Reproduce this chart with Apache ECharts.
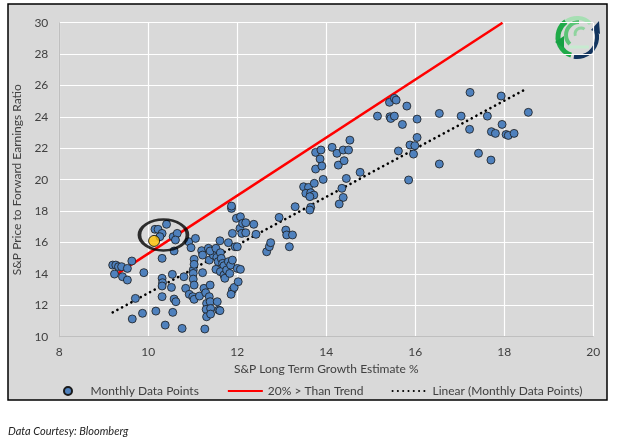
<!DOCTYPE html>
<html>
<head>
<meta charset="utf-8">
<script src="https://cdn.jsdelivr.net/npm/echarts@6/dist/echarts.min.js"></script>
<style>
  html, body { margin: 0; padding: 0; background: #fff; }
  #main { width: 619px; height: 447px; }
</style>
</head>
<body>
<div id="main"></div>
<script>
// monthly data points: [growth estimate %, forward P/E]
var monthlyPoints = [
  [9.20,14.56],[9.27,14.56],[9.33,14.46],[9.40,14.46],[9.24,13.99],[9.42,13.82],[9.53,13.61],
  [9.53,14.35],[9.63,14.82],[9.71,12.44],[9.64,11.13],[9.87,11.49],[9.90,14.08],
  [10.15,16.84],[10.22,16.84],[10.41,17.16],[10.31,16.58],[10.26,16.37],[10.56,16.37],
  [10.65,16.58],[10.61,16.16],[10.58,15.46],[10.31,14.99],[10.91,16.05],[10.96,15.67],
  [11.06,16.26],[10.31,13.72],[10.32,13.44],[10.31,13.23],[10.54,13.97],[10.52,13.14],
  [10.31,12.55],[10.58,12.40],[10.62,12.23],[10.17,11.63],[10.55,11.55],[10.38,10.74],
  [10.76,10.53],[10.80,13.82],[10.84,13.08],[10.92,12.70],[11.00,12.55],[11.03,12.38],
  [11.01,14.25],[11.01,14.03],[11.01,13.67],[11.03,13.29],[11.03,14.93],[11.03,14.61],
  [11.15,12.59],[11.20,15.48],[11.22,15.20],[11.22,14.08],[11.25,13.08],[11.29,12.80],
  [11.31,12.12],[11.30,11.74],[11.31,11.27],[11.27,10.49],[11.35,15.63],[11.37,12.55],
  [11.39,13.29],[11.39,12.23],[11.40,11.80],[11.40,11.44],[11.37,14.88],[11.46,15.20],
  [11.39,15.46],[11.52,15.63],[11.55,12.23],[11.58,11.70],[11.61,11.66],[11.52,14.29],
  [11.54,15.05],[11.57,14.78],[11.61,16.11],[11.62,15.35],[11.64,14.99],[11.67,14.67],
  [11.70,14.52],[11.62,14.14],[11.70,13.93],[11.72,13.72],[11.76,14.25],[11.80,15.99],
  [11.80,14.78],[11.85,14.56],[11.83,14.03],[11.89,16.58],[11.89,14.88],[11.89,12.97],
  [11.86,12.70],[11.93,13.14],[11.95,15.73],[12.00,14.35],[12.02,13.50],[12.07,14.29],
  [11.87,18.17],[11.87,18.32],[11.98,17.54],[12.07,17.64],[12.06,16.90],[12.10,16.58],
  [12.12,17.22],[12.19,17.26],[12.19,16.62],[12.00,15.73],[12.37,17.16],[12.42,16.52],
  [12.66,15.41],[12.72,15.73],[12.75,15.99],[12.94,17.60],[13.09,16.79],[13.11,16.48],
  [13.24,16.48],[13.17,15.73],[13.30,18.28],[13.65,18.24],[13.63,18.07],
  [13.49,19.55],[13.60,19.51],[13.54,19.13],[13.65,19.17],[13.72,19.02],[13.63,18.92],
  [13.73,19.77],[13.76,20.68],[13.76,21.74],[13.88,21.89],[13.86,21.32],[13.90,20.87],
  [13.93,20.02],[14.13,22.06],[14.24,21.68],[14.27,20.93],[14.38,21.89],[14.50,21.89],
  [14.53,22.52],[14.40,21.21],[14.45,20.08],[14.38,18.87],[14.29,18.45],[14.35,19.45],
  [14.76,20.47],[15.15,24.05],[15.42,24.93],[15.53,25.18],[15.57,25.07],[15.81,24.69],
  [15.43,24.01],[15.45,23.90],[15.53,24.05],[15.71,23.52],[16.04,23.86],[15.62,21.83],
  [15.88,22.21],[15.99,22.17],[15.96,21.63],[16.04,22.69],[15.85,19.98],[16.54,24.22],
  [16.54,21.00],[17.03,24.05],[17.23,25.56],[17.22,23.21],[17.42,21.68],[17.62,24.05],
  [17.71,23.06],[17.80,22.95],[17.70,21.25],[17.93,25.33],[17.95,23.52],[18.04,22.88],
  [18.09,22.82],[18.22,22.95],[18.54,24.29]
];
var currentPoint = [[10.13, 16.10]];
var circledArea = [[10.34, 16.48]];

var trendLine = [[9.20, 11.55], [18.50, 25.80]];       // Linear (Monthly Data Points)
var aboveTrendLine = [[9.30, 14.00], [17.96, 30.00]];  // 20% > Than Trend

var xTicks = { min: 8, max: 20, step: 2 };
var yTicks = { min: 10, max: 30, step: 2 };

var font = 'Lato, "Liberation Sans", sans-serif';
var chart = echarts.init(document.getElementById('main'));

// no marker on the line legend icons
var hideMarker = { color: 'rgba(0,0,0,0)', borderWidth: 0, opacity: 0 };

chart.setOption({
  backgroundColor: '#fff',
  animation: false,
  textStyle: { fontFamily: font },
  graphic: [
    { type: 'rect', z: -10, shape: { x: 8, y: 4, width: 599, height: 396 },
      style: { fill: '#d9d9d9', stroke: '#000', lineWidth: 1.5 } },
    { type: 'text', left: 8, top: 426,
      style: { text: 'Data Courtesy: Bloomberg', fill: '#222', fontSize: 11,
               fontStyle: 'italic', fontFamily: font } },
    // logo (rough sketch of the striped globe)
    { type: 'group', x: 577, y: 37, z: 5, children: [
      { type: 'arc', shape: { cx: 0, cy: 0, r: 19, startAngle: Math.PI * 0.6, endAngle: Math.PI * 1.3 },
        style: { stroke: '#1faa48', lineWidth: 5, fill: null } },
      { type: 'arc', shape: { cx: 2, cy: -2, r: 13, startAngle: Math.PI * 0.75, endAngle: Math.PI * 1.5 },
        style: { stroke: '#5cc477', lineWidth: 4, fill: null } },
      { type: 'arc', shape: { cx: 0, cy: 0, r: 19, startAngle: Math.PI * 1.3, endAngle: Math.PI * 1.75 },
        style: { stroke: '#a6dfb3', lineWidth: 4, fill: null } },
      { type: 'arc', shape: { cx: 4, cy: -3, r: 6, startAngle: Math.PI * 0.9, endAngle: Math.PI * 1.7 },
        style: { stroke: '#8fd49f', lineWidth: 3, fill: null } },
      { type: 'line', shape: { x1: -8, y1: 10, x2: 12, y2: 10 },
        style: { stroke: '#c7ead0', lineWidth: 3 } },
      { type: 'polygon', shape: { points: [[-22, 5], [-13, -1], [-13, 11]] },
        style: { fill: '#16a043' } },
      { type: 'arc', shape: { cx: 0, cy: 0, r: 20, startAngle: -Math.PI * 0.1, endAngle: Math.PI * 0.55 },
        style: { stroke: '#12345e', lineWidth: 4, fill: null } },
      { type: 'polygon', shape: { points: [[22, -16], [14, -7], [23, -3]] },
        style: { fill: '#12345e' } }
    ] }
  ],
  grid: { left: 59.3, right: 25.7, top: 22.7, bottom: 110.3 },
  legend: {
    left: 58, top: 380,
    itemWidth: 35, itemHeight: 8, itemGap: 28,
    textStyle: { fontSize: 12, color: '#404040', fontFamily: font },
    data: [
      'Monthly Data Points',
      { name: '20% > Than Trend', itemStyle: hideMarker },
      { name: 'Linear (Monthly Data Points)', itemStyle: hideMarker }
    ]
  },
  xAxis: {
    type: 'value', min: xTicks.min, max: xTicks.max, interval: xTicks.step,
    name: 'S&P Long Term Growth Estimate %', nameLocation: 'middle', nameGap: 26,
    nameTextStyle: { fontSize: 12, color: '#404040' },
    axisLine: { show: true, lineStyle: { color: '#bfbfbf', width: 1 } },
    axisTick: { show: false },
    axisLabel: { fontSize: 12, color: '#404040', margin: 9 },
    splitLine: { show: true, lineStyle: { color: '#fff', width: 1.2 } }
  },
  yAxis: {
    type: 'value', min: yTicks.min, max: yTicks.max, interval: yTicks.step,
    name: 'S&P Price to Forward Earnings Ratio', nameLocation: 'middle', nameGap: 31,
    nameTextStyle: { fontSize: 12, color: '#404040' },
    axisLine: { show: true, lineStyle: { color: '#bfbfbf', width: 1 } },
    axisTick: { show: false },
    axisLabel: { fontSize: 12, color: '#404040', margin: 11 },
    splitLine: { show: true, lineStyle: { color: '#fff', width: 1.2 } }
  },
  series: [
    {
      name: 'Monthly Data Points', type: 'scatter', data: monthlyPoints,
      symbol: 'circle', symbolSize: 8, z: 3,
      itemStyle: { color: '#4f81bd', borderColor: '#1a1a1a', borderWidth: 0.8, opacity: 1 }
    },
    {
      name: '20% > Than Trend', type: 'line', data: aboveTrendLine,
      symbol: 'none', showSymbol: false, z: 2,
      lineStyle: { color: '#ff0000', width: 2.5 }, itemStyle: { color: '#ff0000' }
    },
    {
      name: 'Linear (Monthly Data Points)', type: 'line', data: trendLine,
      symbol: 'none', showSymbol: false, z: 2,
      lineStyle: { color: '#000', width: 2.6, type: [0.1, 5.2], cap: 'round' }, itemStyle: { color: '#000' }
    },
    {
      name: 'current', type: 'scatter', data: currentPoint, symbolSize: 11, z: 4,
      itemStyle: { color: '#ffc000', borderColor: '#000', borderWidth: 1 }
    },
    {
      name: 'circle', type: 'scatter', data: circledArea, symbol: 'circle', symbolSize: [48, 31], z: 5,
      silent: true,
      itemStyle: { color: 'rgba(0,0,0,0)', borderColor: '#000', borderWidth: 3 }
    }
  ]
});
</script>
</body>
</html>
